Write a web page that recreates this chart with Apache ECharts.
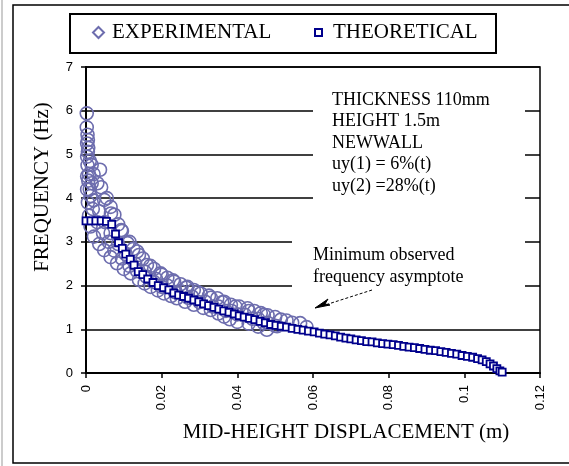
<!DOCTYPE html>
<html>
<head>
<meta charset="utf-8">
<script src="https://cdn.jsdelivr.net/npm/echarts@6/dist/echarts.min.js"></script>
<style>html,body{margin:0;padding:0;background:#fff}#c{width:569px;height:466px}</style>
</head>
<body>
<div id="c"></div>
<script>
// ---- data ----
const xTicks = [0, 0.02, 0.04, 0.06, 0.08, 0.1, 0.12];
const yTicks = [0, 1, 2, 3, 4, 5, 6, 7];

// experimental: overlapping test traces [displacement m, frequency Hz]
const expCycle1 = [
  [0.0002,5.94],[0.0002,5.62],[0.0005,5.33],[0.0005,5.06],[0.0015,4.76],[0.0037,4.65],
  [0.0015,4.34],[0.0030,4.34],[0.0048,3.96],[0.0065,3.80],[0.0066,3.65],[0.0085,3.40],
  [0.0093,3.27],[0.0110,2.97],[0.0125,2.84],[0.0140,2.70],[0.0161,2.47],[0.0180,2.38],
  [0.0197,2.28],[0.0215,2.18],[0.0233,2.09],[0.0250,2.03],[0.0268,1.97],[0.0285,1.90],
  [0.0303,1.82],[0.0325,1.77],[0.0347,1.71],[0.0365,1.63],[0.0383,1.56],[0.0405,1.52],
  [0.0427,1.48],[0.0445,1.42],[0.0462,1.37],[0.0480,1.32],[0.0500,1.28],[0.0530,1.20],
  [0.0566,1.14],[0.0583,1.05]
];
const expCycle2 = [
  [0.0003,5.25],[0.0003,4.95],[0.0008,4.55],[0.0010,4.20],[0.0020,3.95],[0.0035,3.70],
  [0.0050,3.45],[0.0065,3.20],[0.0085,2.95],[0.0105,2.72],[0.0130,2.50],[0.0155,2.32],
  [0.0185,2.15],[0.0215,2.00],[0.0250,1.87],[0.0280,1.75],[0.0315,1.63],[0.0350,1.52],
  [0.0385,1.42],[0.0420,1.33],[0.0455,1.24],[0.0480,1.15],[0.0505,1.07]
];
const expCycle3 = [
  [0.0003,4.50],[0.0003,4.20],[0.0005,3.90],[0.0008,3.60],[0.0012,3.35],[0.0021,3.12],
  [0.0035,2.95],[0.0048,2.81],[0.0065,2.65],[0.0082,2.51],[0.0100,2.38],[0.0118,2.28],
  [0.0140,2.13],[0.0155,2.05],[0.0171,1.97],[0.0190,1.89],[0.0206,1.82],[0.0225,1.76],
  [0.0240,1.71],[0.0262,1.63],[0.0285,1.56],[0.0310,1.49],[0.0330,1.44],[0.0350,1.36],
  [0.0365,1.29],[0.0380,1.23],[0.0400,1.17],[0.0430,1.13],[0.0455,1.06],[0.0478,0.99]
];
const expCycle4 = [
  [0.0004,5.45],[0.0006,5.15],[0.0010,4.85],[0.0020,4.55],[0.0040,4.25],[0.0055,4.00],
  [0.0075,3.62],[0.0095,3.25],[0.0115,3.00],[0.0135,2.78],[0.0150,2.62],[0.0170,2.45],
  [0.0200,2.25],[0.0230,2.12],[0.0265,1.95],[0.0295,1.85],[0.0330,1.72],[0.0360,1.62],
  [0.0395,1.52],[0.0430,1.42],[0.0470,1.33],[0.0515,1.22],[0.0545,1.15]
];
const expCycle5 = [
  [0.0004,4.75],[0.0006,4.40],[0.0012,4.05],[0.0018,3.75],[0.0030,3.45],[0.0045,3.20],
  [0.0060,3.00],[0.0075,2.80],[0.0095,2.62],[0.0115,2.45],[0.0135,2.33],[0.0160,2.20],
  [0.0180,2.08],[0.0200,1.97],[0.0235,1.85],[0.0270,1.72],[0.0300,1.62],[0.0335,1.52],
  [0.0370,1.42],[0.0400,1.34],[0.0440,1.24],[0.0470,1.14],[0.0500,1.08]
];
// theoretical curve markers
const theoretical = [
  [0.0000,3.48],[0.0013,3.48],[0.0026,3.48],[0.0040,3.48],[0.0054,3.47],[0.0068,3.40],
  [0.0078,3.18],[0.0086,2.98],[0.0096,2.85],[0.0105,2.72],[0.0117,2.60],[0.0127,2.47],
  [0.0138,2.32],[0.0150,2.25],[0.0163,2.15],[0.0177,2.07],[0.0191,2.00],[0.0205,1.95],
  [0.0219,1.90],[0.0232,1.83],[0.0245,1.78],[0.0258,1.75],[0.0271,1.71],[0.0285,1.67],
  [0.0298,1.63],[0.0311,1.58],[0.0324,1.54],[0.0338,1.50],[0.0351,1.46],[0.0364,1.42],
  [0.0378,1.39],[0.0392,1.35],[0.0405,1.31],[0.0418,1.28],[0.0432,1.25],[0.0446,1.22],
  [0.0460,1.18],[0.0474,1.15],[0.0488,1.11],[0.0502,1.09],[0.0516,1.07],[0.0530,1.05],
  [0.0545,1.02],[0.0560,1.00],[0.0574,0.98],[0.0588,0.96],[0.0603,0.94],[0.0617,0.91],
  [0.0631,0.89],[0.0645,0.87],[0.0659,0.85],[0.0673,0.82],[0.0687,0.80],[0.0700,0.78],
  [0.0714,0.76],[0.0728,0.74],[0.0742,0.72],[0.0756,0.71],[0.0770,0.69],[0.0784,0.67],
  [0.0798,0.66],[0.0812,0.65],[0.0826,0.63],[0.0840,0.61],[0.0854,0.59],[0.0868,0.58],
  [0.0882,0.56],[0.0896,0.54],[0.0910,0.52],[0.0924,0.51],[0.0938,0.49],[0.0952,0.47],
  [0.0966,0.45],[0.0980,0.43],[0.0994,0.40],[0.1008,0.38],[0.1022,0.36],[0.1035,0.33],
  [0.1047,0.30],[0.1058,0.26],[0.1068,0.21],[0.1077,0.16],[0.1086,0.10],[0.1094,0.05],
  [0.1100,0.02]
];
const noteLines = ['THICKNESS 110mm', 'HEIGHT 1.5m', 'NEWWALL', 'uy(1) = 6%(t)', 'uy(2) =28%(t)'];
const arrowNote = ['Minimum observed', 'frequency asymptote'];

// ---- chart ----
const SERIF = '"Liberation Serif","Times New Roman",serif';
const SANS = '"Liberation Sans",Arial,sans-serif';
const EXP_COLOR = '#6d6dae';
const TH_COLOR = '#00008c';

const chart = echarts.init(document.getElementById('c'), null, {renderer: 'canvas'});

const graphics = [
  // outer frame
  {type:'rect', shape:{x:13, y:5, width:580, height:458}, style:{fill:'none', stroke:'#000', lineWidth:1.5}, z:1},
  {type:'line', shape:{x1:2, y1:0, x2:2, y2:466}, style:{stroke:'#999', lineWidth:1}, z:1},
  // legend frame
  {type:'rect', shape:{x:70, y:14, width:426, height:39}, style:{fill:'none', stroke:'#000', lineWidth:2}, z:1},
  // note boxes (white backgrounds hiding gridlines)
  {type:'rect', shape:{x:313, y:85, width:212, height:120}, style:{fill:'#fff'}, z:5},
  {type:'rect', shape:{x:292, y:232, width:233, height:64}, style:{fill:'#fff'}, z:5},
  // axis titles
  {type:'text', x:346, y:432, z:6, style:{text:'MID-HEIGHT DISPLACEMENT (m)', font:'21px ' + SERIF, fill:'#000', textAlign:'center', textVerticalAlign:'middle'}},
  {type:'text', x:42, y:187, rotation:Math.PI/2, z:6, style:{text:'FREQUENCY (Hz)', font:'21px ' + SERIF, fill:'#000', textAlign:'center', textVerticalAlign:'middle'}},
  // arrow
  {type:'line', shape:{x1:372, y1:290, x2:322, y2:306}, style:{stroke:'#000', lineWidth:1, lineDash:[3,2]}, z:6},
  {type:'polygon', shape:{points:[[315,308],[328,299],[325,304],[330,305]]}, style:{fill:'#000', stroke:'#000', lineWidth:1}, z:6}
];
noteLines.forEach(function (t, i) {
  graphics.push({type:'text', x:332, y:100 + i*21.5, z:6,
    style:{text:t, font:'18px ' + SERIF, fill:'#000', textAlign:'left', textVerticalAlign:'middle'}});
});
arrowNote.forEach(function (t, i) {
  graphics.push({type:'text', x:313, y:255 + i*22, z:6,
    style:{text:t, font:'18px ' + SERIF, fill:'#000', textAlign:'left', textVerticalAlign:'middle'}});
});

const option = {
  backgroundColor: '#fff',
  animation: false,
  grid: {left:86, top:67, width:454, height:306, show:true, borderColor:'#000', borderWidth:1.5, backgroundColor:'transparent'},
  legend: [
    {data:[{name:'EXPERIMENTAL', icon:'diamond'}], left:92, top:22, itemWidth:11, itemHeight:11, padding:0,
     textStyle:{fontFamily:SERIF, fontSize:21, color:'#000', padding:[0,0,0,3]}},
    {data:[{name:'THEORETICAL', icon:'rect'}], left:314, top:22, itemWidth:7, itemHeight:7, padding:0,
     textStyle:{fontFamily:SERIF, fontSize:21, color:'#000', padding:[0,0,0,6]}}
  ],
  xAxis: {
    type:'value', min:xTicks[0], max:xTicks[xTicks.length-1], interval:xTicks[1]-xTicks[0],
    axisLine:{show:true, onZero:false, lineStyle:{color:'#000', width:2}},
    axisTick:{show:true, length:5, lineStyle:{color:'#000', width:1.5}},
    axisLabel:{rotate:90, margin:12, fontFamily:SANS, fontSize:13, color:'#000'},
    splitLine:{show:false}
  },
  yAxis: {
    type:'value', min:yTicks[0], max:yTicks[yTicks.length-1], interval:yTicks[1]-yTicks[0],
    axisLine:{show:true, onZero:false, lineStyle:{color:'#000', width:2}},
    axisTick:{show:true, length:5, lineStyle:{color:'#000', width:1.5}},
    axisLabel:{margin:13, fontFamily:SANS, fontSize:13, color:'#000'},
    splitLine:{show:true, lineStyle:{color:'#000', width:1.5}}
  },
  series: [
    {name:'EXPERIMENTAL', type:'scatter', symbol:'circle', symbolSize:13, z:3,
     data: expCycle1.concat(expCycle2, expCycle3, expCycle4, expCycle5),
     itemStyle:{color:'rgba(255,255,255,0)', borderColor:EXP_COLOR, borderWidth:1.6, opacity:1}},
    {name:'THEORETICAL', type:'scatter', symbol:'rect', symbolSize:7, z:4,
     data: theoretical,
     itemStyle:{color:'#fff', borderColor:TH_COLOR, borderWidth:1.8, opacity:1}}
  ],
  graphic: graphics
};
chart.setOption(option);
</script>
</body>
</html>
